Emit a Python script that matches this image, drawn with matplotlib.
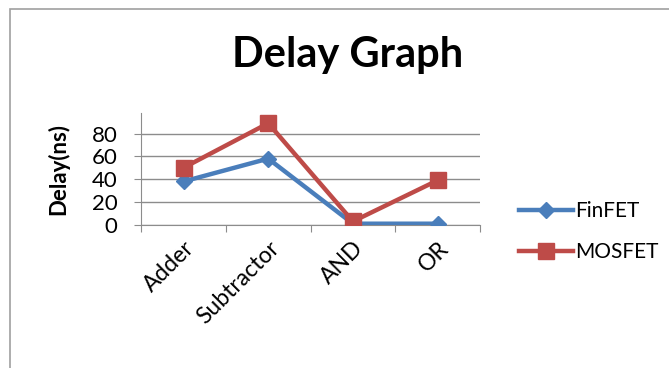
import numpy as np
import matplotlib.pyplot as plt
from matplotlib.patches import Rectangle

categories = ['Adder', 'Subtractor', 'AND', 'OR']
finfet = [38, 58, 1, 1]
mosfet = [50, 89, 3, 39]
yticks = [0, 20, 40, 60, 80]

blue = '#4a7ebb'
red = '#be4b48'
grid = '#8c8c8c'
font = 'Lato'

fig = plt.figure(figsize=(6.69, 3.68), dpi=100)
ax = fig.add_axes([0.211, 0.389, 0.5065, 0.304])

x = np.arange(len(categories))
ax.plot(x, finfet, color=blue, lw=3.2, marker='D', ms=8, label='FinFET', zorder=3)
ax.plot(x, mosfet, color=red, lw=3.2, marker='s', ms=11, label='MOSFET', zorder=4)

ax.set_xlim(-0.5, len(categories) - 0.5)
ax.set_ylim(0, 98)
ax.set_yticks(yticks)
ax.set_yticklabels([str(v) for v in yticks], fontsize=16, family=font)
ax.yaxis.grid(True, color=grid, lw=1)
ax.set_axisbelow(True)

# category boundaries carry the tick marks, labels sit at the centres
ax.set_xticks(np.arange(-0.5, len(categories)))
ax.set_xticklabels([])
ax.set_xticks(x, minor=True)
ax.set_xticklabels(categories, minor=True, rotation=45, ha='right',
                   rotation_mode='anchor', fontsize=16.5, family=font)
ax.tick_params(axis='x', which='major', length=5, color=grid, direction='out')
ax.tick_params(axis='x', which='minor', length=0, pad=9)
ax.tick_params(axis='y', length=5, color=grid, pad=12)

for s in ['top', 'right']:
    ax.spines[s].set_visible(False)
ax.spines['left'].set_color(grid)
ax.spines['bottom'].set_color(grid)

ax.set_ylabel('Delay(ns)', fontsize=16, fontweight='bold', family=font, labelpad=16)

fig.text(0.519, 0.85, 'Delay Graph', fontsize=30, fontweight='bold',
         family=font, ha='center', va='center')

fig.legend(loc='center left', bbox_to_anchor=(0.748, 0.37), frameon=False,
           prop={'family': font, 'size': 15},
           handlelength=2.6, labelspacing=1.0, handletextpad=0.1)

# chart frame
fig.add_artist(Rectangle((0.015, -0.1), 1.2, 1.075, transform=fig.transFigure,
                         fill=False, edgecolor='#a0a0a0', lw=1.2))

fig.savefig('out.png', dpi=100)
